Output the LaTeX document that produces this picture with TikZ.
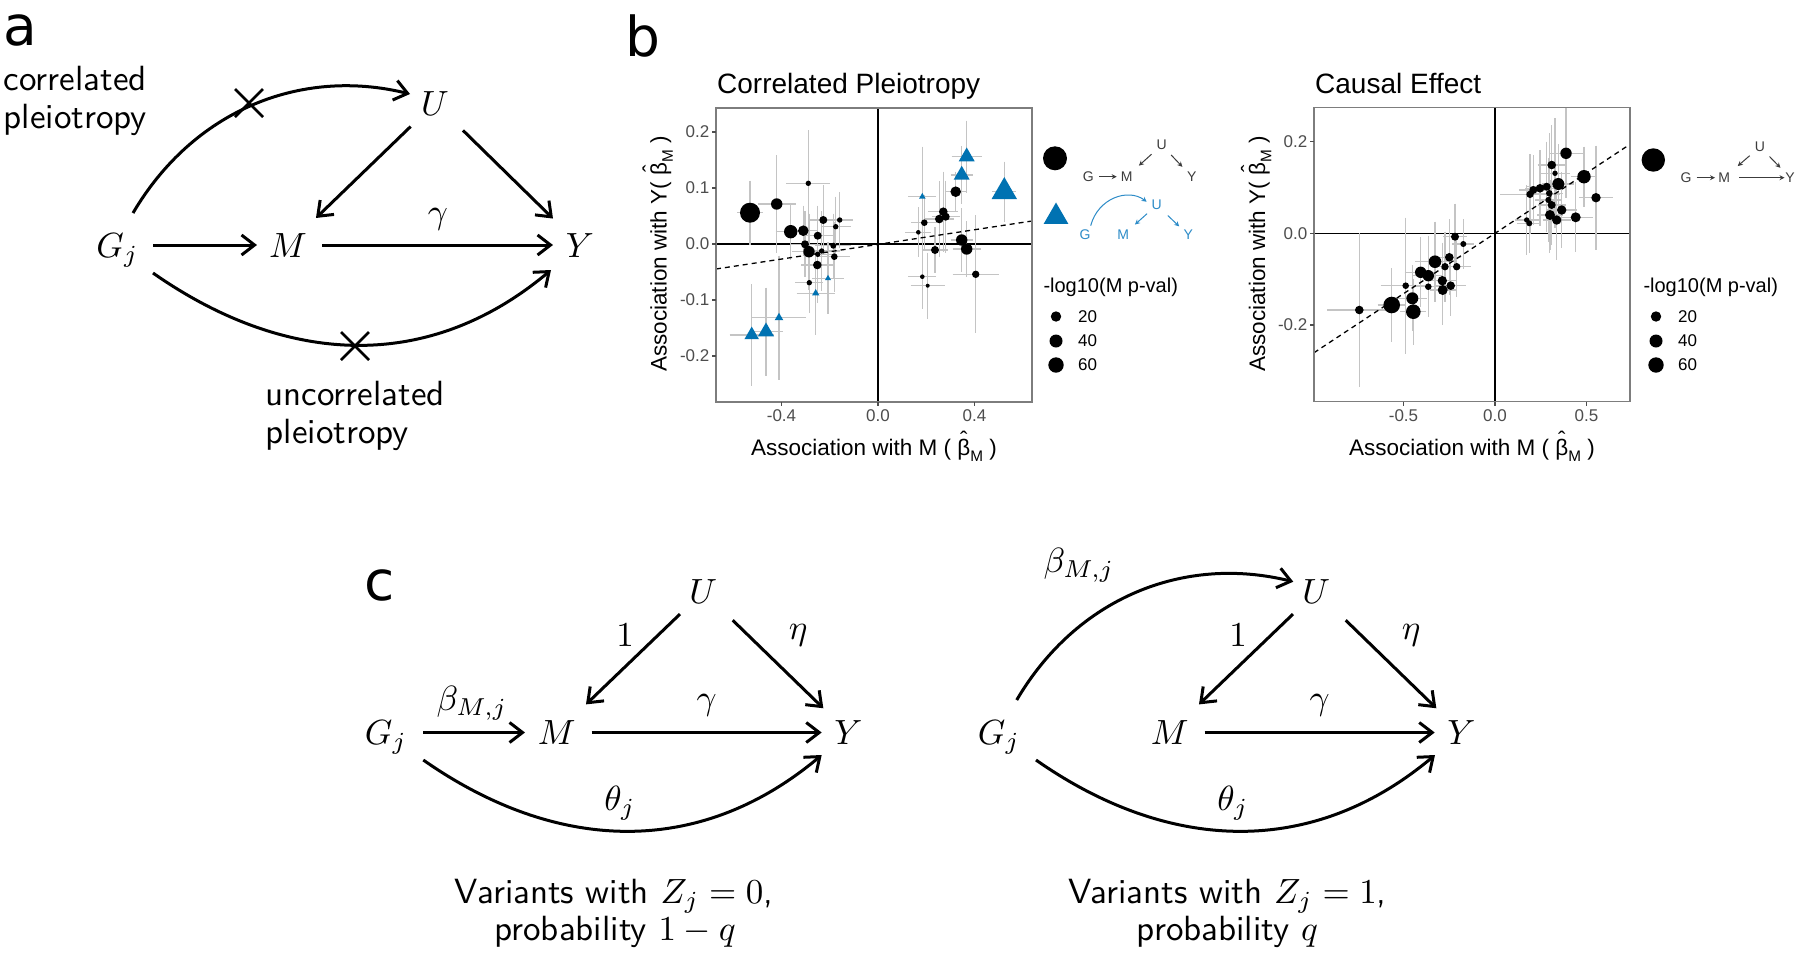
\documentclass[tikz,border=0pt]{standalone}
\usepackage{fontspec}
\usepackage{graphicx}
\usetikzlibrary{arrows.meta,calc}
\newfontfamily\pf{Liberation Sans}
\newfontfamily\lf{DejaVu Sans}
\definecolor{tblue}{RGB}{0,114,178}
\definecolor{dblue}{RGB}{45,140,200}
\definecolor{ebar}{RGB}{196,196,196}
\definecolor{tcol}{RGB}{77,77,77}
\definecolor{bcol}{RGB}{125,125,125}
\definecolor{dagc}{RGB}{60,60,60}
\newcommand{\bhm}{{\ooalign{β\cr\hidewidth\raisebox{0.34em}{ˆ}\hidewidth\cr}}\raisebox{-0.28em}{\scalebox{0.68}{M}}}
\tikzset{
 mnode/.style={font=\fontsize{10}{12}\selectfont, scale=3.5, inner sep=0pt, text height=6.86pt, text depth=0pt},
 mlab/.style={font=\fontsize{10}{12}\selectfont, scale=3.5, inner sep=0pt},
 stxt/.style={font=\sffamily\fontsize{10}{12}\selectfont, scale=3.5, inner sep=0pt},
 plab/.style={font=\lf\fontsize{55}{60}\selectfont, inner sep=0pt, anchor=base},
 arr/.style={line width=3pt, -{Straight Barb[length=13pt,width=20pt]}},
 xmark/.style={line width=2.7pt},
 ptxt/.style={font=\pf\fontsize{#1}{#1}\selectfont, inner sep=0pt},
 zeroln/.style={line width=1.3pt, black},
 dashln/.style={line width=1.3pt, black, dash pattern=on 5pt off 4pt},
 errb/.style={line width=1.5pt, ebar},
 pborder/.style={line width=1.1pt, bcol},
 tickm/.style={line width=1.1pt, tcol},
 marr/.style={line width=1pt, -{Stealth[length=5pt,width=5pt]}},
 dagn/.style={ptxt=14, text=dagc},
 dagb/.style={ptxt=14, text=dblue},
}
\def\leftcirc{750/212.7/10/13/32, 776.7/204/5.7/19/49, 790.7/231.7/6.7/15/28, 803.3/230.7/5.3/15/25, 808.3/183.3/2.7/22/53, 823.3/220/4/13/35, 817.7/235.7/4/16/30, 805/244.3/4/15/33, 809/251.7/5.7/17/38, 821.7/251/2.7/18/40, 817.7/254.3/2.7/14/36, 817.3/265/4.3/16/38, 833.3/245.7/3/18/32, 835.7/226.7/2.7/15/30, 839.7/220/2.7/13/28, 834.3/256.7/3.3/16/35, 809.3/282.7/2.7/14/30, 955.7/191.7/5.3/11/20, 943.3/211.7/4.3/15/40, 939.3/219/4.3/15/38, 945.7/216.7/4/14/36, 924.3/222.7/3.3/13/28, 918.3/232.3/2.3/13/25, 961.7/240/5.7/11/32, 966.7/249/5.7/14/28, 935/250/4/13/23, 975.7/274.3/3.7/23/59, 922.3/276.7/2.3/14/32, 927.7/285.7/2/17/33}
\def\lefttri{966.7/156.7/8/15/36, 961.7/175/8/11/29, 1004.3/191.7/12.7/12/30, 922.3/196.7/3.3/14/50, 751.7/335/7.3/22/51, 766/331.7/8/17/44, 779/317.7/4.3/27/62, 815.7/293.3/3.7/19/42, 828/278.3/3/16/36}
\def\rightcirc{1359.3/310/4.3/32/77, 1391.7/305/8.3/14/37, 1413.3/311.7/7.3/13/33, 1412.3/298.3/6/15/33, 1405.7/285.7/3.3/25/68, 1420.7/272.3/5.7/16/35, 1428.3/275.7/5.7/15/40, 1428.3/286.7/3.3/14/30, 1435/261.7/6.3/20/40, 1442.3/280.7/4.7/14/38, 1442.7/290/5/13/35, 1450.7/285.7/4.3/15/30, 1445/266.7/3.7/14/35, 1449.3/257.3/4.3/12/38, 1456.7/266.7/3.7/14/30, 1455/236.7/4/12/33, 1463.3/244/3/11/25, 1566/153.3/5.7/17/45, 1551.7/165/4.3/14/40, 1555/173.3/2.7/15/55, 1584/176.7/6.7/13/30, 1558.3/184/6/16/40, 1546.7/186.7/4/20/45, 1540/188.3/4.3/15/38, 1533.3/190/4/14/35, 1530/194.3/3.7/30/40, 1549.3/193.3/3.3/14/60, 1596/197.7/4.7/17/52, 1548.3/200/3/13/42, 1551.7/205/4/14/40, 1561.7/210/4.7/15/38, 1550/215/5/13/35, 1556.7/220/4.7/14/40, 1575.7/217.3/5/17/35, 1526.7/220/2.7/12/35, 1529.3/223.3/3/12/30}
\begin{document}
\begin{tikzpicture}[x=1pt,y=-1pt]
\useasboundingbox (0,0) rectangle (1800,959);
\fill[white] (0,0) rectangle (1800,959);

% ---------------- panel labels
\node[plab] (la) at (20,45) {a};
\node[plab] (lb) at (643,56) {b};
\node[plab] (lc) at (380,600) {c};

% ---------------- panel a
\node[mnode] (aG) at (117.5,245) {$G_j$};
\node[mnode] (aM) at (288,245) {$M$};
\node[mnode] (aY) at (580,245) {$Y$};
\node[mnode] (aU) at (435,103) {$U$};
\node[mlab] (agam) at (438,219) {$\gamma$};
\draw[arr, shorten <=35.5pt, shorten >=31pt] (aG.center) -- (aM.center);
\draw[arr, shorten <=34pt, shorten >=27pt] (aM.center) -- (aY.center);
\draw[arr, shorten <=33.8pt, shorten >=38.9pt] (aU.center) -- (aM.center);
\draw[arr, shorten <=39.2pt, shorten >=37.8pt] (aU.center) -- (aY.center);
\draw[arr] ($(aG.center)+(15.5,-32)$) .. controls +(60,-102) and +(-110,-27) .. ($(aU.center)+(-25,-9)$);
\draw[arr] ($(aG.center)+(35.5,28)$) .. controls +(130,91) and +(-125,105) .. ($(aY.center)+(-29,25)$);
\coordinate (ax1) at (249,103);
\coordinate (ax2) at (355,346);
\draw[xmark] ($(ax1)+(-14,-14)$) -- ($(ax1)+(14,14)$) ($(ax1)+(-14,14)$) -- ($(ax1)+(14,-14)$);
\draw[xmark] ($(ax2)+(-14,-14)$) -- ($(ax2)+(14,14)$) ($(ax2)+(-14,14)$) -- ($(ax2)+(14,-14)$);
\node[stxt, anchor=base west] (acor1) at (3,90.7) {correlated};
\node[stxt, anchor=base west] (acor2) at (3,128) {pleiotropy};
\node[stxt, anchor=base west] (aunc1) at (265,405) {uncorrelated};
\node[stxt, anchor=base west] (aunc2) at (265,443) {pleiotropy};

% ---------------- panel b, left plot
\draw[zeroln] (878,108) -- (878,402);
\draw[zeroln] (716,244) -- (1032,244);
\foreach \x/\y/\r/\ex/\ey in \leftcirc {
  \draw[errb] (\x-\ex,\y) -- (\x+\ex,\y) (\x,\y-\ey) -- (\x,\y+\ey);
}
\foreach \x/\y/\s/\ex/\ey in \lefttri {
  \draw[errb] (\x-\ex,\y) -- (\x+\ex,\y) (\x,\y-\ey) -- (\x,\y+\ey);
}
\foreach \x/\y/\r/\ex/\ey in \leftcirc {
  \fill[black] (\x,\y) circle[radius=\r];
}
\foreach \x/\y/\s/\ex/\ey in \lefttri {
  \fill[tblue] (\x,\y-1.155*\s) -- (\x+\s,\y+0.577*\s) -- (\x-\s,\y+0.577*\s) -- cycle;
}
\draw[dashln] (716,269) -- (1032,221);
\draw[pborder] (716,108) rectangle (1032,402);
\foreach \v/\t in {132/0.2, 188/0.1, 244/0.0, 300/-0.1, 356/-0.2} {
  \draw[tickm] (712,\v) -- (716,\v);
  \node[ptxt=17, text=tcol, anchor=east] at (709.5,\v) {\t};
}
\foreach \v/\t in {781.5/-0.4, 878/0.0, 974.5/0.4} {
  \draw[tickm] (\v,402) -- (\v,406);
  \node[ptxt=17, text=tcol, anchor=base] at (\v,421.5) {\t};
}
\node[ptxt=28, anchor=base west] (bt1) at (717,93) {Correlated Pleiotropy};
\node[ptxt=22.5, anchor=base] (bx1) at (874,455) {Association with M ( \bhm\ )};
\node[ptxt=22.5, rotate=90, anchor=base] (by1) at (666.5,254) {Association with Y( \bhm\ )};
% legend left
\fill[black] (1055,158.3) circle[radius=12];
\fill[tblue] (1056,216.7-1.155*12.3) -- (1056+12.3,216.7+0.577*12.3) -- (1056-12.3,216.7+0.577*12.3) -- cycle;
\node[dagn] (l1U) at (1161.7,145) {U};
\node[dagn] (l1G) at (1088.3,176.7) {G};
\node[dagn] (l1M) at (1126.7,176.7) {M};
\node[dagn] (l1Y) at (1191.7,176.7) {Y};
\draw[marr, dagc, shorten <=11pt, shorten >=10pt] (l1G.center) -- (l1M.center);
\draw[marr, dagc, shorten <=13.7pt, shorten >=16.5pt] (l1U.center) -- (l1M.center);
\draw[marr, dagc, shorten <=13.7pt, shorten >=13.6pt] (l1U.center) -- (l1Y.center);
\node[dagb] (l2U) at (1156.7,205) {U};
\node[dagb] (l2G) at (1085,235) {G};
\node[dagb] (l2M) at (1123.3,235) {M};
\node[dagb] (l2Y) at (1188.3,235) {Y};
\draw[marr, dblue] ($(l2G.center)+(5.7,-9.3)$) .. controls +(7.3,-27.7) and +(-18.7,-13.7) .. ($(l2U.center)+(-10,-3.3)$);
\draw[marr, dblue, shorten <=13pt, shorten >=15.7pt] (l2U.center) -- (l2M.center);
\draw[marr, dblue, shorten <=15.3pt, shorten >=12.5pt] (l2U.center) -- (l2Y.center);
\node[ptxt=20, anchor=base west] (lg1) at (1043.3,292) {-log10(M p-val)};
\foreach \yy/\rr/\t in {316.5/5.2/20, 341/6.5/40, 365/7.7/60} {
  \fill[black] (1056,\yy) circle[radius=\rr];
  \node[ptxt=17, anchor=west] at (1078,\yy) {\t};
}

% ---------------- panel b, right plot
\draw[zeroln] (1495,107.7) -- (1495,401.7);
\draw[zeroln] (1314,233.3) -- (1630,233.3);
\foreach \x/\y/\r/\ex/\ey in \rightcirc {
  \draw[errb] (\x-\ex,\y) -- (\x+\ex,\y) (\x,\y-\ey) -- (\x,\y+\ey);
}
\foreach \x/\y/\r/\ex/\ey in \rightcirc {
  \fill[black] (\x,\y) circle[radius=\r];
}
\draw[dashln] (1314,352.7) -- (1630,144.3);
\draw[pborder] (1314,107.7) rectangle (1630,401.7);
\foreach \v/\t in {141.7/0.2, 233.3/0.0, 325/-0.2} {
  \draw[tickm] (1310,\v) -- (1314,\v);
  \node[ptxt=17, text=tcol, anchor=east] at (1307.5,\v) {\t};
}
\foreach \v/\t in {1403.5/-0.5, 1495/0.0, 1586.5/0.5} {
  \draw[tickm] (\v,401.7) -- (\v,405.7);
  \node[ptxt=17, text=tcol, anchor=base] at (\v,421.5) {\t};
}
\node[ptxt=28, anchor=base west] (bt2) at (1315,93) {Causal Effect};
\node[ptxt=22.5, anchor=base] (bx2) at (1472,455) {Association with M ( \bhm\ )};
\node[ptxt=22.5, rotate=90, anchor=base] (by2) at (1265,254) {Association with Y( \bhm\ )};
% legend right
\fill[black] (1653.3,160) circle[radius=11.7];
\node[dagn] (r1U) at (1760,146.7) {U};
\node[dagn] (r1G) at (1686,177.7) {G};
\node[dagn] (r1M) at (1724.3,177.7) {M};
\node[dagn] (r1Y) at (1790,177.7) {Y};
\draw[marr, dagc, shorten <=10.7pt, shorten >=9.3pt] (r1G.center) -- (r1M.center);
\draw[marr, dagc, shorten <=15pt, shorten >=5.5pt] (r1M.center) -- (r1Y.center);
\draw[marr, dagc, shorten <=13.7pt, shorten >=17.8pt] (r1U.center) -- (r1M.center);
\draw[marr, dagc, shorten <=13.7pt, shorten >=13.8pt] (r1U.center) -- (r1Y.center);
\node[ptxt=20, anchor=base west] (lg2) at (1643.3,292.3) {-log10(M p-val)};
\foreach \yy/\rr/\t in {316.5/5.2/20, 341/6.5/40, 365/7.7/60} {
  \fill[black] (1656,\yy) circle[radius=\rr];
  \node[ptxt=17, anchor=west] at (1678,\yy) {\t};
}

% ---------------- panel c, left
\node[mnode] (cG) at (386,732.5) {$G_j$};
\node[mnode] (cM) at (556.7,732.5) {$M$};
\node[mnode] (cY) at (848.3,732.5) {$Y$};
\node[mnode] (cU) at (703.3,591.7) {$U$};
\draw[arr, shorten <=37pt, shorten >=31.7pt] (cG.center) -- (cM.center);
\draw[arr, shorten <=35pt, shorten >=26.6pt] (cM.center) -- (cY.center);
\draw[arr, shorten <=32.3pt, shorten >=40.6pt] (cU.center) -- (cM.center);
\draw[arr, shorten <=41pt, shorten >=34.8pt] (cU.center) -- (cY.center);
\draw[arr] ($(cG.center)+(37.3,27.5)$) .. controls +(130,91) and +(-125,105) .. ($(cY.center)+(-26.6,22.5)$);
\node[mlab] (cb) at (472,703) {$\beta_{M,j}$};
\node[mlab] (c1) at (625,635) {$1$};
\node[mlab] (ceta) at (798.3,635) {$\eta$};
\node[mlab] (cgam) at (706.7,705) {$\gamma$};
\node[mlab] (cth) at (620,803) {$\theta_j$};
\node[stxt, anchor=base] (ccap1) at (614,903) {Variants with $Z_j=0$,};
\node[stxt, anchor=base] (ccap2) at (615,940) {probability $1-q$};

% ---------------- panel c, right
\node[mnode] (dG) at (999,732.5) {$G_j$};
\node[mnode] (dM) at (1169.7,732.5) {$M$};
\node[mnode] (dY) at (1461.3,732.5) {$Y$};
\node[mnode] (dU) at (1316.3,591.7) {$U$};
\draw[arr, shorten <=35pt, shorten >=26.6pt] (dM.center) -- (dY.center);
\draw[arr, shorten <=32.3pt, shorten >=40.6pt] (dU.center) -- (dM.center);
\draw[arr, shorten <=41pt, shorten >=34.8pt] (dU.center) -- (dY.center);
\draw[arr] ($(dG.center)+(17.7,-32.5)$) .. controls +(60,-102) and +(-110,-27) .. ($(dU.center)+(-23,-10)$);
\draw[arr] ($(dG.center)+(37,27.5)$) .. controls +(130,91) and +(-125,105) .. ($(dY.center)+(-26.3,22.5)$);
\node[mlab] (db) at (1079,565) {$\beta_{M,j}$};
\node[mlab] (d1) at (1238,635) {$1$};
\node[mlab] (deta) at (1411.3,635) {$\eta$};
\node[mlab] (dgam) at (1319.7,705) {$\gamma$};
\node[mlab] (dth) at (1233,803) {$\theta_j$};
\node[stxt, anchor=base] (dcap1) at (1227.5,903) {Variants with $Z_j=1$,};
\node[stxt, anchor=base] (dcap2) at (1227.5,940) {probability $q$};
\end{tikzpicture}
\end{document}
